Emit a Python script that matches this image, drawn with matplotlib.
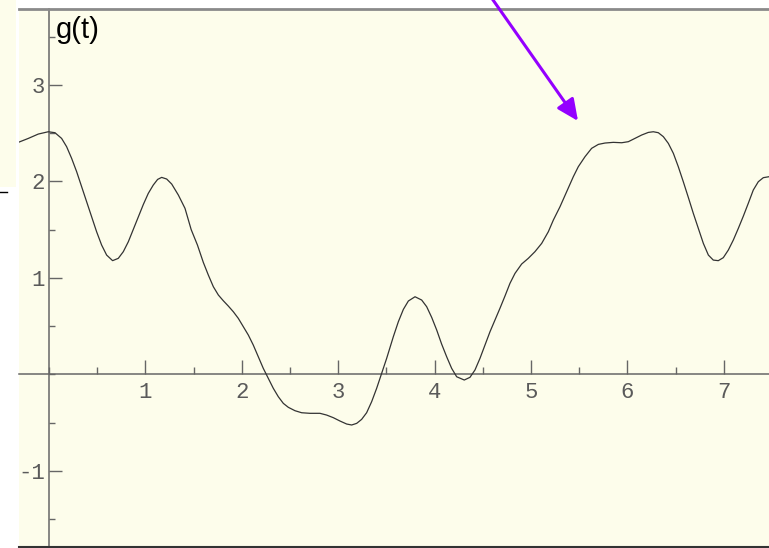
import matplotlib
matplotlib.use("Agg")
import matplotlib.pyplot as plt
from matplotlib.patches import Rectangle, FancyArrowPatch
from matplotlib.lines import Line2D
from matplotlib.ticker import FixedLocator, MultipleLocator
from matplotlib.transforms import IdentityTransform

# ---------- sampled values of g(t) ----------
t_vals = [-0.318, -0.214, -0.111, -0.007, 0.062, 0.131, 0.183, 0.235, 0.287, 0.339,
          0.391, 0.443, 0.494, 0.546, 0.598, 0.660, 0.719, 0.771, 0.823, 0.875,
          0.927, 0.979, 1.030, 1.082, 1.127, 1.169, 1.221, 1.273, 1.342, 1.411,
          1.475, 1.540, 1.601, 1.653, 1.705, 1.757, 1.808, 1.860, 1.912, 1.964,
          2.016, 2.068, 2.119, 2.171, 2.223, 2.275, 2.327, 2.379, 2.431, 2.483,
          2.552, 2.621, 2.707, 2.811, 2.880, 2.949, 3.019, 3.088, 3.140, 3.192,
          3.243, 3.295, 3.347, 3.399, 3.451, 3.503, 3.572, 3.624, 3.676, 3.728,
          3.797, 3.866, 3.918, 3.970, 4.022, 4.073, 4.125, 4.177, 4.229, 4.308,
          4.367, 4.419, 4.471, 4.523, 4.575, 4.627, 4.678, 4.730, 4.782, 4.834,
          4.903, 4.972, 5.041, 5.111, 5.180, 5.232, 5.301, 5.370, 5.439, 5.491,
          5.560, 5.629, 5.699, 5.768, 5.854, 5.941, 6.010, 6.079, 6.148, 6.217,
          6.269, 6.321, 6.373, 6.425, 6.477, 6.528, 6.580, 6.632, 6.684, 6.736,
          6.788, 6.840, 6.891, 6.943, 6.995, 7.047, 7.099, 7.151, 7.203, 7.254,
          7.306, 7.358, 7.410, 7.469]
g_vals = [2.404, 2.445, 2.490, 2.514, 2.504, 2.445, 2.359, 2.238, 2.100, 1.944,
          1.789, 1.633, 1.478, 1.340, 1.236, 1.178, 1.202, 1.271, 1.374, 1.502,
          1.633, 1.761, 1.875, 1.962, 2.020, 2.041, 2.024, 1.972, 1.858, 1.720,
          1.500, 1.340, 1.160, 1.029, 0.908, 0.822, 0.763, 0.708, 0.649, 0.580,
          0.494, 0.407, 0.304, 0.183, 0.062, -0.042, -0.145, -0.232, -0.301, -0.342,
          -0.377, -0.398, -0.404, -0.404, -0.422, -0.449, -0.484, -0.515, -0.525, -0.508,
          -0.467, -0.398, -0.284, -0.145, 0.010, 0.166, 0.390, 0.545, 0.673, 0.760,
          0.804, 0.770, 0.701, 0.590, 0.459, 0.314, 0.183, 0.062, -0.025, -0.059,
          -0.031, 0.045, 0.166, 0.304, 0.442, 0.563, 0.684, 0.811, 0.943, 1.046,
          1.143, 1.202, 1.271, 1.357, 1.478, 1.599, 1.737, 1.893, 2.048, 2.152,
          2.255, 2.342, 2.383, 2.397, 2.404, 2.400, 2.411, 2.445, 2.480, 2.507,
          2.514, 2.504, 2.463, 2.393, 2.290, 2.152, 1.996, 1.834, 1.668, 1.513,
          1.357, 1.236, 1.184, 1.178, 1.209, 1.288, 1.392, 1.513, 1.640, 1.772,
          1.910, 1.996, 2.038, 2.048]

x_major = [1, 2, 3, 4, 5, 6, 7]
y_major = [-1, 1, 2, 3]

CREAM = "#fdfdeb"
AXIS_GRAY = "#666666"
LABEL_GRAY = "#5a5a5a"

plt.rcParams["font.family"] = ["Liberation Mono", "DejaVu Sans Mono"]
plt.rcParams["axes.unicode_minus"] = False

W, H = 769, 548
fig = plt.figure(figsize=(W / 100, H / 100), dpi=100)
fig.patch.set_facecolor("white")

ax = fig.add_axes([19 / W, 2 / H, 750 / W, 537 / H])
ax.set_facecolor(CREAM)
ax.set_xlim(-0.311, 7.469)
ax.set_ylim(-1.779, 3.786)

ax.plot(t_vals, g_vals, color="#333333", lw=0.9, zorder=3)

# axes crossing at the origin
for side in ("left", "bottom"):
    ax.spines[side].set_position(("data", 0))
    ax.spines[side].set_color(AXIS_GRAY)
    ax.spines[side].set_linewidth(1.1)
ax.spines["right"].set_visible(False)
ax.spines["top"].set_color("#8a8a8a")
ax.spines["top"].set_linewidth(2.0)

ax.xaxis.set_major_locator(FixedLocator(x_major))
ax.xaxis.set_minor_locator(MultipleLocator(0.5))
ax.yaxis.set_major_locator(FixedLocator(y_major))
ax.yaxis.set_minor_locator(MultipleLocator(0.5))

ax.tick_params(axis="x", which="major", direction="in", length=10, width=1,
               color=AXIS_GRAY, pad=5.5, labelsize=16, labelcolor=LABEL_GRAY)
ax.tick_params(axis="x", which="minor", direction="in", length=5, width=1,
               color=AXIS_GRAY)
ax.tick_params(axis="y", which="major", direction="in", length=9.4, width=1,
               color=AXIS_GRAY, pad=3, labelsize=16, labelcolor=LABEL_GRAY)
ax.tick_params(axis="y", which="minor", direction="in", length=4.3, width=1,
               color=AXIS_GRAY)

# axis label
fig.text(56 / W, (H - 38.5) / H, "g(t)", fontsize=21, color="black",
         family=["Liberation Sans", "DejaVu Sans"], ha="left", va="baseline")

# frame pieces around the panel
fig.add_artist(Line2D([19 / W, 1.0], [1.5 / H, 1.5 / H], color="#333333",
                      lw=1.5, transform=fig.transFigure))
fig.add_artist(Rectangle((0, (H - 187) / H), 16 / W, 187 / H, facecolor=CREAM,
                         edgecolor="none", transform=fig.transFigure))
fig.add_artist(Line2D([0, 7 / W], [(H - 192) / H, (H - 192) / H], color="black",
                      lw=1.0, transform=fig.transFigure))

# pointer arrow
arrow = FancyArrowPatch((484.6, 560), (578, 427), transform=IdentityTransform(),
                        arrowstyle="-|>,head_length=0.65,head_width=0.3",
                        mutation_scale=20, shrinkA=0, shrinkB=0,
                        color="#9400ff", lw=2.2, zorder=10)
fig.add_artist(arrow)

fig.savefig("out.png", dpi=100, facecolor="white")
